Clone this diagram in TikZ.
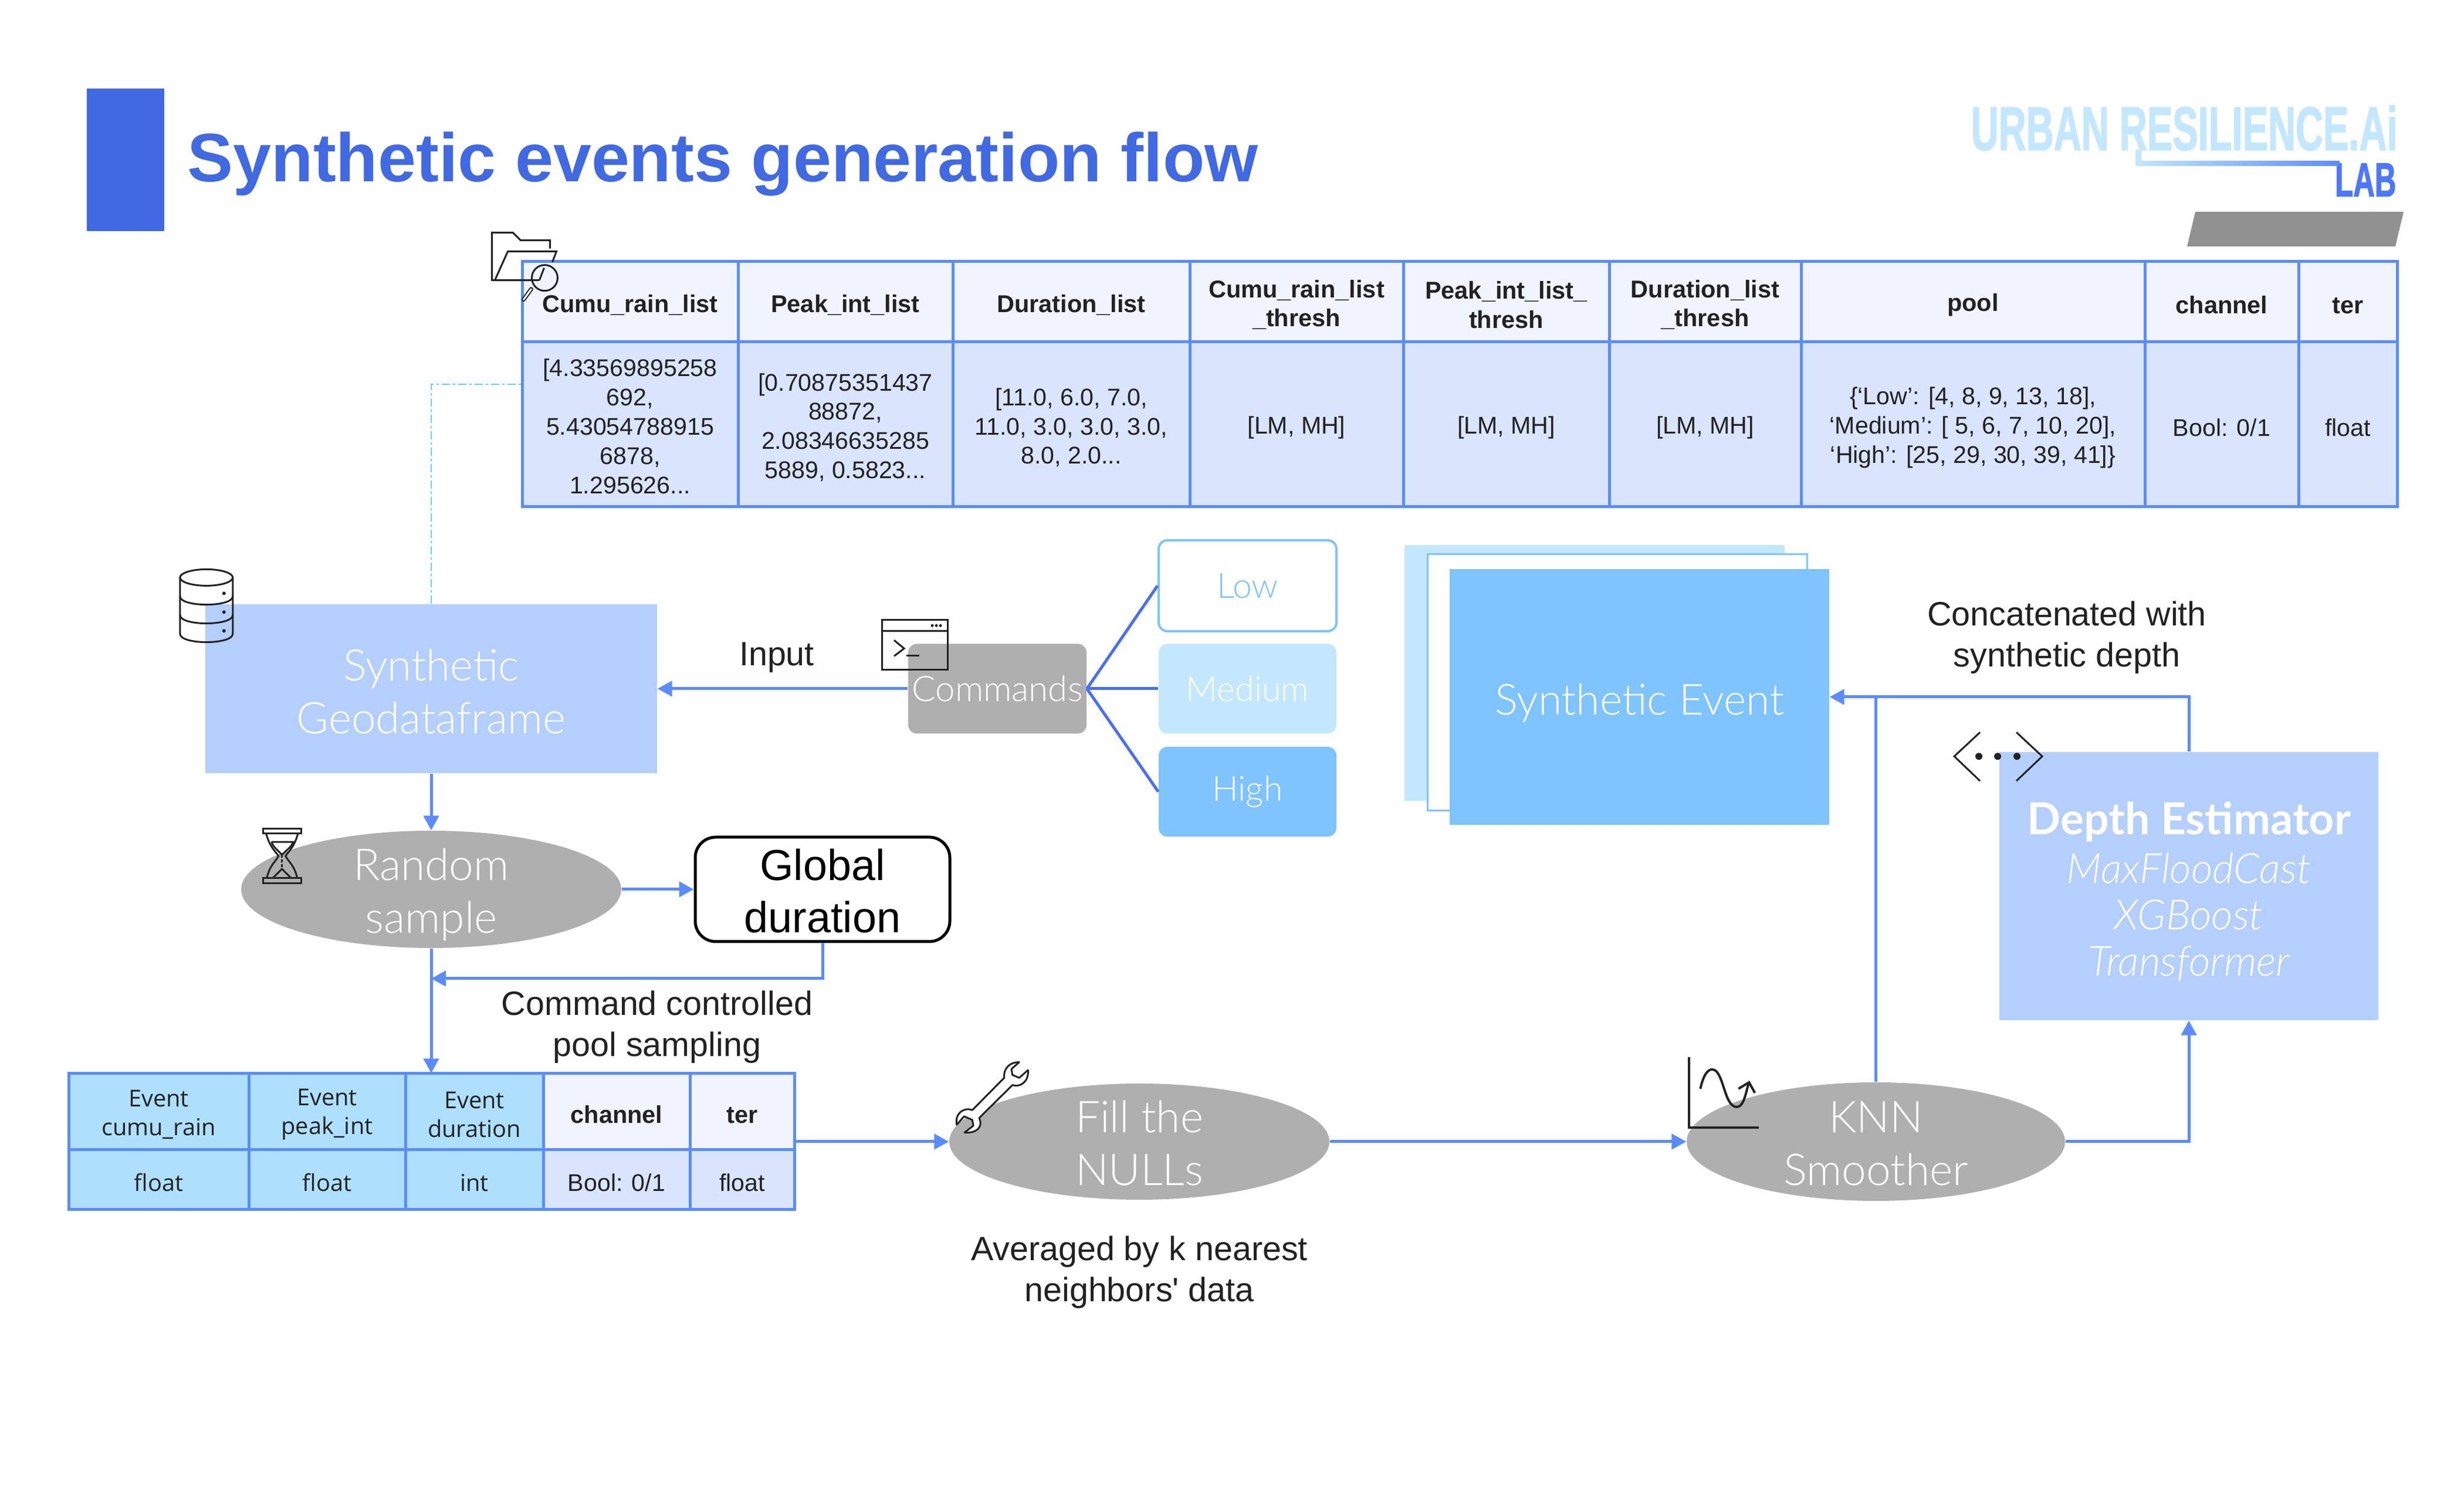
\documentclass[tikz,border=0pt]{standalone}
\usepackage{fontspec}
\setmainfont{Liberation Sans}
\newfontfamily\thinfont[ItalicFont={Lato Light Italic},BoldFont={Lato Bold}]{Lato Light}
\newfontfamily\cellfont{Open Sans}
\newfontfamily\logofont[UprightFont=* Bold,FakeBold=2]{Liberation Sans}
\usetikzlibrary{arrows.meta,shapes.geometric}
\definecolor{flowblue}{HTML}{5B8CFF}
\definecolor{branchblue}{HTML}{4A6FEF}
\definecolor{titleblue}{HTML}{4169E1}
\definecolor{paleblue}{HTML}{B4CFFB}
\definecolor{skypale}{HTML}{C3E7FF}
\definecolor{skyblue}{HTML}{7FC3FF}
\definecolor{headfill}{HTML}{F0F4FF}
\definecolor{bodyfill}{HTML}{D9E4FD}
\definecolor{eventfill}{HTML}{AEE0FD}
\definecolor{greyfill}{HTML}{AFAFAF}
\definecolor{inkline}{HTML}{222222}
\tikzset{
	flow/.style={draw=flowblue, line width=.05cm, -{Triangle[length=.25cm,width=.26cm]}},
	branch/.style={draw=branchblue, line width=.05cm},
	headcell/.style={draw=flowblue, fill=headfill, line width=.05cm, inner sep=0pt, align=center, minimum height=1.37cm, text=inkline, font=\fontsize{11.8}{14.2}\selectfont\bfseries, execute at begin node=\rule{0pt}{11.5pt}},
	bodycell/.style={draw=flowblue, fill=bodyfill, line width=.05cm, inner sep=0pt, align=center, minimum height=2.81cm, text=inkline, font=\fontsize{11.7}{14.2}\selectfont, execute at begin node=\rule{0pt}{11.5pt}},
	eventhead/.style={headcell, fill=eventfill, minimum height=1.30cm, font=\cellfont\fontsize{11.3}{14}\selectfont, execute at begin node=\rule{0pt}{24.9pt}},
	eventbody/.style={bodycell, fill=eventfill, minimum height=1.02cm, font=\cellfont\fontsize{11.3}{14}\selectfont, execute at begin node=\rule{0pt}{10pt}},
	lift/.style={execute at begin node=\rule{0pt}{#1pt}},
	plainlabel/.style={align=center, inner sep=0pt, text=inkline, font=\fontsize{16.35}{19.9}\selectfont},
	paperbox/.style={fill=paleblue, inner sep=0pt, align=center, text=white, font=\thinfont\fontsize{21.2}{25.6}\selectfont},
	greyoval/.style={ellipse, fill=greyfill, inner sep=-.3cm, align=center, text=white, minimum height=2cm, font=\thinfont\fontsize{21.3}{25.6}\selectfont},
	levelbox/.style={rounded corners=.15cm, inner sep=0pt, minimum width=3.03cm, minimum height=1.53cm, font=\thinfont\fontsize{16.8}{20}\selectfont},
	iconline/.style={draw=inkline, line width=.03cm},
}

\begin{document}
\begin{tikzpicture}
	\useasboundingbox (0, 0) rectangle (42, 25.5);
	%%%%% HEADER %%%%%
	\fill[titleblue] (1.48, 23.99) rectangle (2.80, 21.56);
	\node[anchor=base west, inner sep=0pt, text=titleblue, font=\fontsize{33.25}{40}\selectfont\bfseries] (title) at (3.19, 22.40) {Synthetic events generation flow};
	
	\node[inner sep=0pt, anchor=north west, text=skypale, font=\logofont] (logotop) at (33.59, 23.71) {\resizebox{7.27cm}{.76cm}{URBAN RESILIENCE.Ai}};
	\node[inner sep=0pt, anchor=north east, text=flowblue!85!blue, font=\logofont] (logolab) at (40.85, 22.72) {\resizebox{1.04cm}{.56cm}{LAB}};
	\fill[skypale] (36.40, 22.95) rectangle (36.50, 22.70);
	\shade[left color=skypale, right color=flowblue] (36.40, 22.75) rectangle (39.88, 22.67);
	\fill[black!43] (37.42, 21.89) -- (40.97, 21.89) -- (40.83, 21.30) -- (37.28, 21.30) -- cycle;
	
	%%%%% LIST TABLE %%%%%
	\node[headcell, minimum width=3.68cm] (cumuhead) at (10.74, 20.355) {Cumu\_rain\_list};
	\node[headcell, minimum width=3.66cm] (peakhead) at (14.41, 20.355) {Peak\_int\_list};
	\node[headcell, minimum width=4.04cm] (durhead) at (18.26, 20.355) {Duration\_list};
	\node[headcell, lift=25.6, minimum width=3.64cm] (cumuthr) at (22.10, 20.355) {Cumu\_rain\_list\\\_thresh};
	\node[headcell, lift=25.6, minimum width=3.51cm] (peakthr) at (25.675, 20.355) {Peak\_int\_list\_\\thresh};
	\node[headcell, lift=25.6, minimum width=3.27cm] (durthr) at (29.065, 20.355) {Duration\_list\\\_thresh};
	\node[headcell, minimum width=5.86cm] (poolhead) at (33.63, 20.355) {pool};
	\node[headcell, minimum width=2.62cm] (chanhead) at (37.87, 20.355) {channel};
	\node[headcell, minimum width=1.68cm] (terhead) at (40.02, 20.355) {ter};
	
	\node[bodycell, lift=67, minimum width=3.68cm] (cumubody) at (10.74, 18.265) {[4.33569895258\\692,\\5.43054788915\\6878,\\1.295626...};
	\node[bodycell, lift=54, minimum width=3.66cm] (peakbody) at (14.41, 18.265) {[0.70875351437\\88872,\\2.08346635285\\5889, 0.5823...};
	\node[bodycell, lift=39.9, minimum width=4.04cm] (durbody) at (18.26, 18.265) {[11.0, 6.0, 7.0,\\11.0, 3.0, 3.0, 3.0,\\8.0, 2.0...};
	\node[bodycell, minimum width=3.64cm] (cumubin) at (22.10, 18.265) {[LM, MH]};
	\node[bodycell, minimum width=3.51cm] (peakbin) at (25.675, 18.265) {[LM, MH]};
	\node[bodycell, minimum width=3.27cm] (durbin) at (29.065, 18.265) {[LM, MH]};
	\node[bodycell, lift=39.9, minimum width=5.86cm] (poolbody) at (33.63, 18.265) {\{‘Low’: [4, 8, 9, 13, 18],\\‘Medium’: [ 5, 6, 7, 10, 20],\\‘High’: [25, 29, 30, 39, 41]\}};
	\node[bodycell, minimum width=2.62cm] (chanbody) at (37.87, 18.265) {Bool: 0/1};
	\node[bodycell, minimum width=1.68cm] (terbody) at (40.02, 18.265) {float};
	
	%%%%% FLOW BOXES %%%%%
	\node[paperbox, lift=43.7, minimum width=7.70cm, minimum height=2.88cm] (geoframe) at (7.35, 13.76) {Synthetic\\Geodataframe};
	\node[greyoval, lift=46, minimum width=6.48cm] (randomsample) at (7.35, 10.34) {Random\\sample};
	\node[draw=black, line width=.05cm, rounded corners=.35cm, inner sep=0pt, align=center, lift=42, minimum width=4.34cm, minimum height=1.78cm, font=\fontsize{21}{25.3}\selectfont] (globaldur) at (14.02, 10.34) {Global\\duration};
	\node[levelbox, fill=greyfill, text=white, minimum width=3.04cm, font=\thinfont\fontsize{17.1}{20}\selectfont] (commands) at (17.00, 13.76) {Commands};
	\node[levelbox, draw=skyblue, line width=.04cm, text=skyblue, minimum height=1.55cm] (lowlevel) at (21.265, 15.515) {Low};
	\node[levelbox, fill=skypale, text=white] (medlevel) at (21.265, 13.76) {Medium};
	\node[levelbox, fill=skyblue, text=white] (highlevel) at (21.265, 12.005) {High};
	
	\node[fill=skypale, inner sep=0pt, minimum width=6.48cm, minimum height=4.36cm] (stackback) at (27.18, 14.03) {};
	\node[draw=skyblue, fill=white, line width=.03cm, inner sep=0pt, minimum width=6.47cm, minimum height=4.37cm] (stackmid) at (27.565, 13.865) {};
	\node[paperbox, fill=skyblue, minimum width=6.47cm, minimum height=4.36cm, font=\thinfont\fontsize{20.8}{25.6}\selectfont, lift=21] (synevent) at (27.945, 13.62) {Synthetic Event};
	
	\node[paperbox, lift=89.7, minimum width=6.46cm, minimum height=4.57cm, font=\thinfont\fontsize{20.2}{22.5}\selectfont] (depth) at (37.31, 10.395) {{\bfseries\fontsize{21.4}{25}\selectfont Depth Estimator}\\[.04cm]\itshape MaxFloodCast\\\itshape XGBoost\\\itshape Transformer};
	
	\node[greyoval, lift=42.4, minimum width=6.48cm, minimum height=1.98cm] (fillnull) at (19.42, 6.04) {Fill the\\NULLs};
	\node[greyoval, lift=42.4, minimum width=6.45cm, minimum height=2.02cm] (knn) at (31.975, 6.04) {KNN\\Smoother};
	
	%%%%% EVENT TABLE %%%%%
	\node[inner sep=0pt, minimum width=12.37cm, minimum height=2.32cm] (eventtbl) at (7.355, 6.04) {};
	\node[eventhead, minimum width=3.07cm] (evcumu) at (2.705, 6.55) {Event\\cumu\_rain};
	\node[eventhead, minimum width=2.67cm] (evpeak) at (5.575, 6.55) {Event\\peak\_int};
	\node[eventhead, minimum width=2.35cm] (evdur) at (8.085, 6.55) {Event\\duration};
	\node[headcell, minimum width=2.50cm, minimum height=1.30cm] (evchan) at (10.51, 6.55) {channel};
	\node[headcell, minimum width=1.78cm, minimum height=1.30cm] (evter) at (12.65, 6.55) {ter};
	\node[eventbody, minimum width=3.07cm] (valcumu) at (2.705, 5.39) {float};
	\node[eventbody, minimum width=2.67cm] (valpeak) at (5.575, 5.39) {float};
	\node[eventbody, minimum width=2.35cm] (valdur) at (8.085, 5.39) {int};
	\node[bodycell, minimum width=2.50cm, minimum height=1.02cm] (valchan) at (10.51, 5.39) {Bool: 0/1};
	\node[bodycell, minimum width=1.78cm, minimum height=1.02cm] (valter) at (12.65, 5.39) {float};
	
	%%%%% LABELS %%%%%
	\node[plainlabel] (inputlab) at (13.24, 14.29) {Input};
	\node[plainlabel] (pooltext) at (11.20, 7.99) {Command controlled\\pool sampling};
	\node[plainlabel] (avgtext) at (19.42, 3.81) {Averaged by k nearest\\neighbors\textquotesingle{} data};
	\node[plainlabel] (concat) at (35.23, 14.63) {Concatenated with\\synthetic depth};
	
	%%%%% CONNECTORS %%%%%
	\coordinate (cumuhook) at (8.90, 18.95);
	\coordinate (trunkjoin) at (7.35, 8.82);
	\draw[draw=skyblue!80!cyan, line width=.015cm, dash pattern=on .14cm off .05cm on .04cm off .05cm] (geoframe.north) |- (cumuhook);
	\draw[flow] (commands.west) -- (geoframe.east);
	\draw[flow] (geoframe.south) -- (randomsample.north);
	\draw[flow] (randomsample.east) -- (globaldur.west);
	\draw[flow] (globaldur.south) |- (trunkjoin);
	\draw[flow] (randomsample.south) -- (randomsample.south |- eventtbl.north);
	\draw[flow] (eventtbl.east) -- (fillnull.west);
	\draw[flow] (fillnull.east) -- (knn.west);
	\draw[flow] (knn.east) -| (depth.south);
	\draw[flow] (depth.north) |- (synevent.east);
	\draw[draw=flowblue, line width=.05cm] (knn.north) -- (knn.north |- synevent.east);
	\draw[branch] (commands.east) -- (lowlevel.west);
	\draw[branch] (commands.east) -- (medlevel.west);
	\draw[branch] (commands.east) -- (highlevel.west);
	
	%%%%% ICONS %%%%%
	\begin{scope}[x=.01cm, y=-.01cm, shift={(0, 25.5cm)}]
		% folder
		\draw[iconline] (938, 424) -- (938, 410) -- (888, 410) -- (875, 397) -- (839, 397) -- (839, 478) -- (906, 478);
		\draw[iconline] (920, 478) -- (906, 478) -- (844, 478) -- (866, 429) -- (949, 429) -- (942, 447);
		\draw[iconline] (929, 474) circle (22);
		\draw[iconline] (928, 457) -- (920, 478);
		\draw[draw=inkline, double=white, double distance=.03cm, line width=.02cm, line cap=round] (906, 493) -- (893, 511);
		% database
		\draw[iconline] (352, 985) ellipse [x radius=45, y radius=14];
		\draw[iconline] (307, 985) -- (307, 1081) .. controls (307, 1100) and (397, 1100) .. (397, 1081) -- (397, 985);
		\draw[iconline] (307, 1017) .. controls (307, 1036) and (397, 1036) .. (397, 1017);
		\draw[iconline] (307, 1049) .. controls (307, 1068) and (397, 1068) .. (397, 1049);
		\fill[inkline] (382, 1012) circle (3);
		\fill[inkline] (382, 1044) circle (3);
		\fill[inkline] (382, 1076) circle (3);
		% terminal
		\draw[iconline] (1504, 1057) rectangle (1616, 1142);
		\draw[iconline] (1504, 1076) -- (1616, 1076);
		\fill[inkline] (1590, 1067) circle (2.5);
		\fill[inkline] (1597, 1067) circle (2.5);
		\fill[inkline] (1604, 1067) circle (2.5);
		\draw[iconline] (1525, 1092) -- (1542, 1106) -- (1525, 1119);
		\draw[iconline] (1546, 1118) -- (1568, 1118);
		% hourglass
		\draw[iconline] (448.3, 1413.3) rectangle (513.3, 1421.7);
		\draw[iconline] (448.3, 1497.7) rectangle (513.3, 1506.7);
		\draw[iconline] (454, 1422) .. controls (460, 1445) and (470, 1452) .. (475, 1460) .. controls (470, 1470) and (460, 1475) .. (455, 1498);
		\draw[iconline] (508, 1422) .. controls (502, 1445) and (492, 1452) .. (487, 1460) .. controls (492, 1470) and (502, 1475) .. (507, 1498);
		\draw[iconline] (463, 1436) -- (500, 1436) .. controls (497, 1445) and (488, 1450) .. (481, 1458) .. controls (474, 1450) and (466, 1445) .. (463, 1436);
		\draw[iconline, dash pattern=on .05cm off .03cm] (481, 1458) -- (481, 1480);
		\draw[iconline] (465, 1498) -- (481, 1482) -- (497, 1498);
		% wrench
		\draw[iconline, fill=white, line join=round] (1738.3, 1811.7) .. controls (1725, 1811) and (1711, 1820) .. (1712.7, 1838.3) -- (1658.3, 1893.3) .. controls (1645, 1888) and (1628, 1898) .. (1631.7, 1918.3) -- (1644.3, 1904) -- (1658.3, 1910) -- (1660, 1920) -- (1645, 1931.7) .. controls (1662, 1933) and (1678, 1925) .. (1670, 1906.7) -- (1726.7, 1850.7) .. controls (1740, 1855) and (1755, 1845) .. (1753.3, 1825) -- (1738.3, 1838.3) -- (1726.7, 1833.3) -- (1725, 1823.3) -- cycle;
		% chart
		\draw[draw=inkline, line width=.04cm] (2881, 1803) -- (2881, 1923) -- (3000, 1923);
		\draw[draw=inkline, line width=.04cm] (2900, 1857) .. controls (2906, 1830) and (2914, 1824) .. (2920, 1824) .. controls (2940, 1824) and (2940, 1888) .. (2962, 1888) .. controls (2975, 1888) and (2978, 1860) .. (2983, 1846);
		\draw[draw=inkline, line width=.04cm] (2965, 1857) -- (2983, 1846) -- (2993, 1864);
		% chevrons
		\draw[iconline] (3377, 1249) -- (3333, 1290) -- (3377, 1332);
		\draw[iconline] (3439, 1249) -- (3483, 1290) -- (3439, 1332);
		\fill[inkline] (3375, 1290) circle (6);
		\fill[inkline] (3407, 1290) circle (6);
		\fill[inkline] (3440, 1290) circle (6);
	\end{scope}
\end{tikzpicture}
\end{document}
